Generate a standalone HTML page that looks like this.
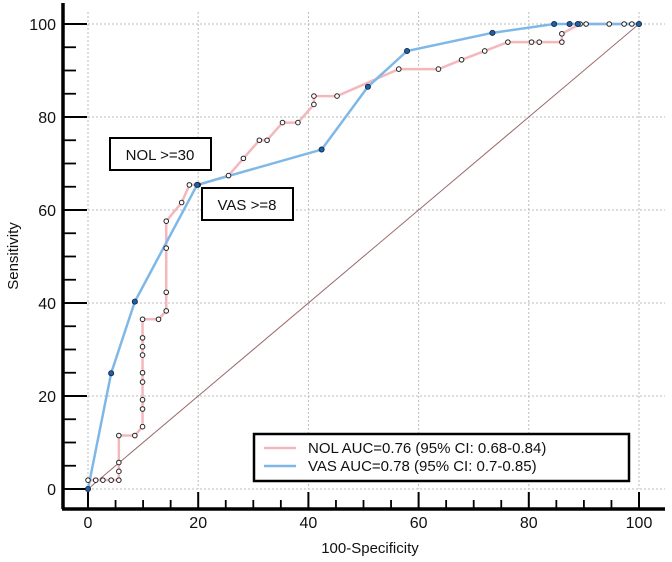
<!DOCTYPE html>
<html><head><meta charset="utf-8"><style>
body{margin:0;background:#fff;}
svg{display:block;font-family:"Liberation Sans",Arial,sans-serif;}
</style></head><body>
<svg id="chart" width="672" height="562" viewBox="0 0 672 562" xmlns="http://www.w3.org/2000/svg">
<g id="grid"></g>
<g id="axes"></g>
<g id="series"></g>
<text x="370" y="553" font-size="15" text-anchor="middle" fill="#111">100-Specificity</text>
<text x="18" y="256" font-size="15" text-anchor="middle" fill="#111" transform="rotate(-90 18 256)">Sensitivity</text>
<g>
<rect x="110" y="138" width="101" height="32" fill="#fff" stroke="#000" stroke-width="2"/>
<text x="160" y="160" font-size="15" text-anchor="middle" fill="#111">NOL &gt;=30</text>
</g>
<g>
<rect x="202" y="188" width="91" height="32" fill="#fff" stroke="#000" stroke-width="2"/>
<text x="247" y="210" font-size="15" text-anchor="middle" fill="#111">VAS &gt;=8</text>
</g>
<g>
<rect x="254" y="434" width="375" height="47" fill="#fff" stroke="#000" stroke-width="2.5"/>
<line x1="264" y1="448" x2="296" y2="448" stroke="#f4b8bc" stroke-width="2.5"/>
<text x="308" y="453" font-size="15" fill="#111">NOL AUC=0.76 (95% CI: 0.68-0.84)</text>
<line x1="264" y1="466" x2="296" y2="466" stroke="#7fb8e8" stroke-width="2.5"/>
<text x="308" y="471" font-size="15" fill="#111">VAS AUC=0.78 (95% CI: 0.7-0.85)</text>
</g>
</svg>
<script>
const xTicks=[0,20,40,60,80,100];
const yTicks=[0,20,40,60,80,100];
const nolX=[0,1.4,2.7,4.2,5.6,5.6,5.6,5.6,8.5,9.9,9.9,9.9,9.9,9.9,9.9,9.9,9.9,9.9,12.8,14.2,14.2,14.2,14.2,17,18.4,20,25.5,28.2,31.1,32.5,35.3,38.1,41,41,45.2,56.4,63.6,67.8,72,76.2,80.5,81.9,86,86,89.3,90.4,94.6,97.3,98.7,100];
const nolY=[1.9,1.9,1.9,1.9,1.9,3.8,5.7,11.5,11.5,13.4,17.2,19.2,23,25,28.8,30.6,32.5,36.5,36.5,38.3,42.3,51.8,57.6,61.6,65.4,65.4,67.4,71.1,75,75,78.8,78.8,82.7,84.5,84.5,90.3,90.3,92.3,94.2,96.1,96.1,96.1,96.1,97.9,100,100,100,100,100,100];
const vasX=[0,4.2,8.5,19.8,42.4,50.8,57.9,73.4,84.6,87.4,88.9,100];
const vasY=[0,24.9,40.3,65.4,73,86.5,94.2,98.1,100,100,100,100];
const NS="http://www.w3.org/2000/svg";
const sx=v=>88+v*5.51, sy=v=>489-v*4.65;
function mk(tag,attrs,parent){const e=document.createElementNS(NS,tag);for(const k in attrs)e.setAttribute(k,attrs[k]);parent.appendChild(e);return e;}
const grid=document.getElementById('grid'),axes=document.getElementById('axes'),series=document.getElementById('series');
xTicks.forEach(t=>{const l=mk('line',{x1:sx(t),x2:sx(t),y1:12,y2:sy(0),stroke:'#bbb','stroke-dasharray':'2,2','stroke-width':1},grid);

});
yTicks.forEach(t=>{const l=mk('line',{x1:sx(0),x2:665,y1:sy(t),y2:sy(t),stroke:'#bbb','stroke-dasharray':'2,2','stroke-width':1},grid);

});
const d=mk('line',{x1:sx(0),y1:sy(0),x2:sx(100),y2:sy(100),stroke:'#9a6a6a','stroke-width':1},series);


mk('line',{x1:63,y1:3,x2:63,y2:509,stroke:'#000','stroke-width':3.5},axes);
mk('line',{x1:62,y1:509,x2:665,y2:509,stroke:'#000','stroke-width':3.5},axes);
for(let v=0;v<=100;v+=5){const maj=v%20===0;
mk('line',{x1:63,x2:maj?87:76,y1:sy(v),y2:sy(v),stroke:'#000','stroke-width':maj?2:1.8},axes);
mk('line',{x1:sx(v),x2:sx(v),y1:509,y2:maj?492:500,stroke:'#000','stroke-width':maj?2:1.8},axes);}
yTicks.forEach(t=>{const e=mk('text',{x:56,y:sy(t)+6,'font-size':16,'text-anchor':'end',fill:'#111'},axes);e.textContent=t;

});
xTicks.forEach(t=>{const e=mk('text',{x:sx(t),y:528,'font-size':16,'text-anchor':'middle',fill:'#111'},axes);e.textContent=t;

});
const nl=mk('polyline',{points:nolX.map((x,i)=>sx(x)+','+sy(nolY[i])).join(' '),fill:'none',stroke:'#f4b8bc','stroke-width':2.5},series);


const vl=mk('polyline',{points:vasX.map((x,i)=>sx(x)+','+sy(vasY[i])).join(' '),fill:'none',stroke:'#7fb8e8','stroke-width':2.5},series);


nolX.forEach((x,i)=>{const c=mk('circle',{cx:sx(x),cy:sy(nolY[i]),r:2.3,fill:'#fff',stroke:'#222','stroke-width':1},series);

});
vasX.forEach((x,i)=>{const c=mk('circle',{cx:sx(x),cy:sy(vasY[i]),r:2.6,fill:'#1f5fa8',stroke:'#123','stroke-width':0.8},series);

});
</script>
</body></html>
